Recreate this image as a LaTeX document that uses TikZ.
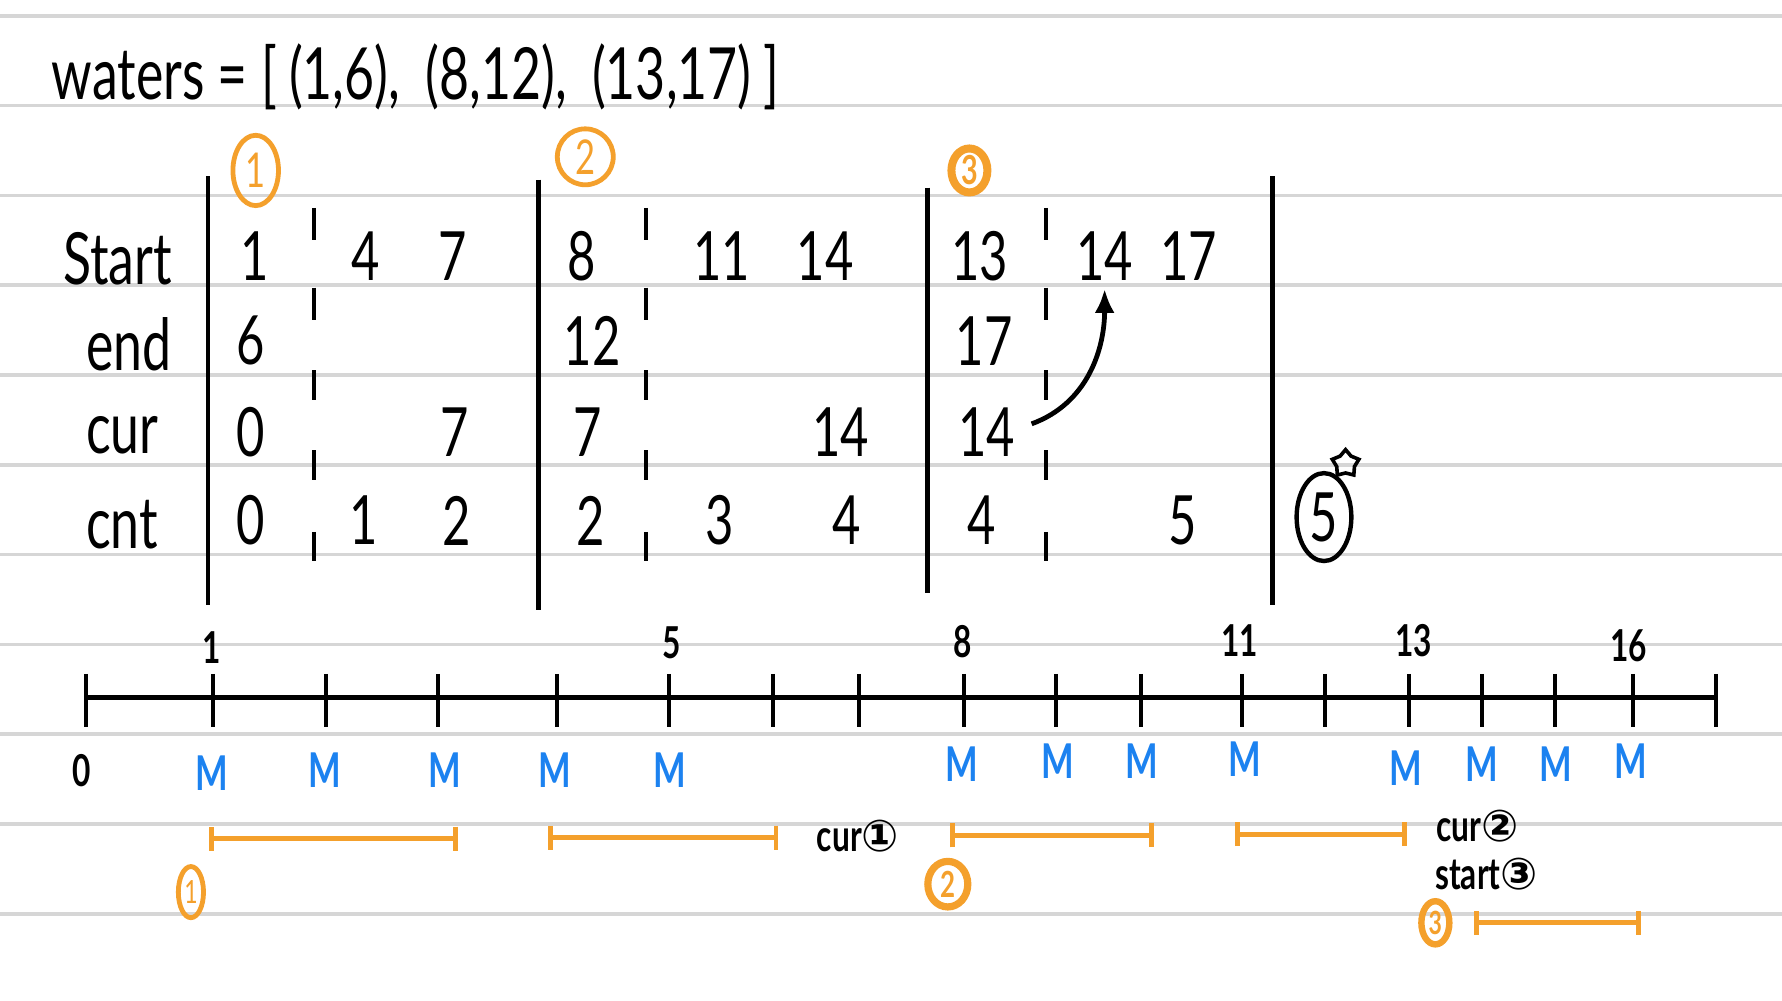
\documentclass[tikz,border=0pt]{standalone}
\usepackage{fontspec}
\setmainfont{Lato}
\newfontfamily\hand[FakeStretch=0.72]{Lato}
\newfontfamily\sym{DejaVu Sans}
\usetikzlibrary{shapes.geometric,arrows.meta}
\definecolor{ruleg}{RGB}{214,214,214}
\definecolor{orng}{RGB}{244,160,44}
\definecolor{mblue}{RGB}{28,130,240}
\tikzset{
  ruled/.style={ruleg, line width=0.9pt},
  bar/.style={line width=1.2pt},
  tick/.style={line width=1pt},
  val/.style={font=\hand\fontsize{17}{17}\selectfont, inner sep=0pt},
  lbl/.style={font=\hand\fontsize{18}{18}\selectfont, anchor=west, inner sep=0pt},
  num/.style={font=\hand\bfseries\fontsize{11}{11}\selectfont, inner sep=0pt},
  mm/.style={font=\hand\bfseries\fontsize{12}{12}\selectfont, text=mblue, inner sep=0pt},
  note/.style={font=\hand\bfseries\fontsize{11}{11}\selectfont, inner sep=0pt},
  ocirc/.style={draw=orng, text=orng, ellipse, inner sep=0pt, line width=1.2pt},
  span/.style={orng, line width=1.2pt, {Bar[width=6pt]}-{Bar[width=6pt]}}
}
\begin{document}
\begin{tikzpicture}[x=0.01cm, y=-0.01cm]
			% paper
			\useasboundingbox[fill=white] (0,0) rectangle (1568,880);
			\foreach \y in {14,93,172,251,330,409,488,567,646,725,804}
				\draw[ruled] (0,\y) -- (1568,\y);
			% title
			\node[lbl] (title) at (45,68) {waters = [\,(1,6),\, (8,12),\, (13,17)\,]};
			% table frame
			\foreach \x/\a/\b in {183/155/532, 474/158/537, 816/165/522, 1120/155/532}
				\draw[bar] (\x,\a) -- (\x,\b);
			\foreach \x in {276,568,920}
				\foreach \a/\b in {183/211, 253/282, 326/352, 396/422, 468/494}
					\draw[tick] (\x,\a) -- (\x,\b);
			% row names
			\node[lbl] (lstart) at (55,228) {Start};
			\node[lbl] (lend) at (75,303) {end};
			\node[lbl] (lcur) at (75,383) {cur};
			\node[lbl] (lcnt) at (75,462) {cnt};
			% block 1
			\node[ocirc, minimum width=11.4pt, minimum height=17.6pt, font=\hand\fontsize{12}{12}\selectfont] (k1) at (225,150) {1};
			\node[val] (s1a) at (224,225) {1};
			\node[val] (s1b) at (322,225) {4};
			\node[val] (s1c) at (398,225) {7};
			\node[val] (e1a) at (221,300) {6};
			\node[val] (c1a) at (221,380) {0};
			\node[val] (c1c) at (400,380) {7};
			\node[val] (n1a) at (221,458) {0};
			\node[val] (n1b) at (320,458) {1};
			\node[val] (n1c) at (402,458) {2};
			% block 2
			\node[ocirc, circle, minimum size=14pt, font=\hand\fontsize{12}{12}\selectfont] (k2) at (515,138) {2};
			\node[val] (s2a) at (512,225) {8};
			\node[val] (s2b) at (635,225) {11};
			\node[val] (s2c) at (726,225) {14};
			\node[val] (e2a) at (521,300) {12};
			\node[val] (c2a) at (517,380) {7};
			\node[val] (c2c) at (740,380) {14};
			\node[val] (n2a) at (520,458) {2};
			\node[val] (n2b) at (633,458) {3};
			\node[val] (n2c) at (745,458) {4};
			% block 3
			\node[ocirc, line width=2pt, minimum width=9pt, minimum height=11pt, font=\hand\bfseries\fontsize{10}{10}\selectfont] (k3) at (853,150) {3};
			\node[val] (s3a) at (862,225) {13};
			\node[val] (s3b) at (972,225) {14};
			\node[val] (s3c) at (1046,225) {17};
			\node[val] (e3a) at (866,300) {17};
			\node[val] (c3a) at (868,380) {14};
			\node[val] (n3a) at (864,458) {4};
			\node[val] (n3c) at (1041,458) {5};
			\draw[line width=1.2pt, -{Latex[length=6pt,width=5pt]}] ([xshift=4pt,yshift=2pt]c3a.east) to[out=20,in=-90] ([yshift=-2pt]s3b.south);
			% answer
			\node[val, draw, ellipse, line width=1.1pt, minimum width=13.7pt, minimum height=22pt] (ans) at (1165,455) {5};
			\node[star, star points=5, draw, line width=0.9pt, minimum size=7pt, inner sep=0pt] (st) at (1184,408) {};
			% number line
			\foreach \x [count=\i from 0] in {76,187,287,385,490,589,680,756,848,929,1004,1093,1166,1240,1304,1368,1437,1510} {
				\draw[tick] (\x,593) -- (\x,640);
				\coordinate (t\i) at (\x,614);
			}
			\draw[bar] (t0) -- (t17);
			\node[num] (p0) at (72,678) {0};
			\node[num] (p1) at (186,570) {1};
			\node[num] (p5) at (591,566) {5};
			\node[num] (p8) at (847,565) {8};
			\node[num] (p11) at (1091,564) {11};
			\node[num] (p13) at (1244,564) {13};
			\node[num] (p16) at (1433,568) {16};
			% mountains
			\foreach \x/\y [count=\k] in {186/680, 286/678, 391/678, 488/678, 589/678, 846/672, 931/670, 1005/670, 1095/668, 1237/676, 1304/672, 1369/672, 1435/670}
				\node[mm] (m\k) at (\x,\y) {M};
			% cover ranges
			\draw[span] (184,738) -- (403,738);
			\draw[span] (482,737) -- (685,737);
			\draw[span] (836,735) -- (1015,735);
			\draw[span] (1087,734) -- (1238,734);
			\draw[span] (1297,812) -- (1444,812);
			\node[ocirc, minimum width=6.3pt, minimum height=12.8pt, font=\hand\fontsize{8}{8}\selectfont] (r1) at (168,785) {1};
			\node[ocirc, line width=1.8pt, minimum width=10pt, minimum height=11.4pt, font=\hand\bfseries\fontsize{9}{9}\selectfont] (r2) at (834,778) {2};
			\node[ocirc, line width=1.6pt, minimum width=7pt, minimum height=10.8pt, font=\hand\bfseries\fontsize{8}{8}\selectfont] (r3) at (1263,812) {3};
			\node[note] (cur1) at (755,736) {cur{\sym①}};
			\node[note] (cur2) at (1300,727) {cur{\sym②}};
			\node[note] (start3) at (1308,769) {start{\sym③}};
		\end{tikzpicture}
\end{document}
